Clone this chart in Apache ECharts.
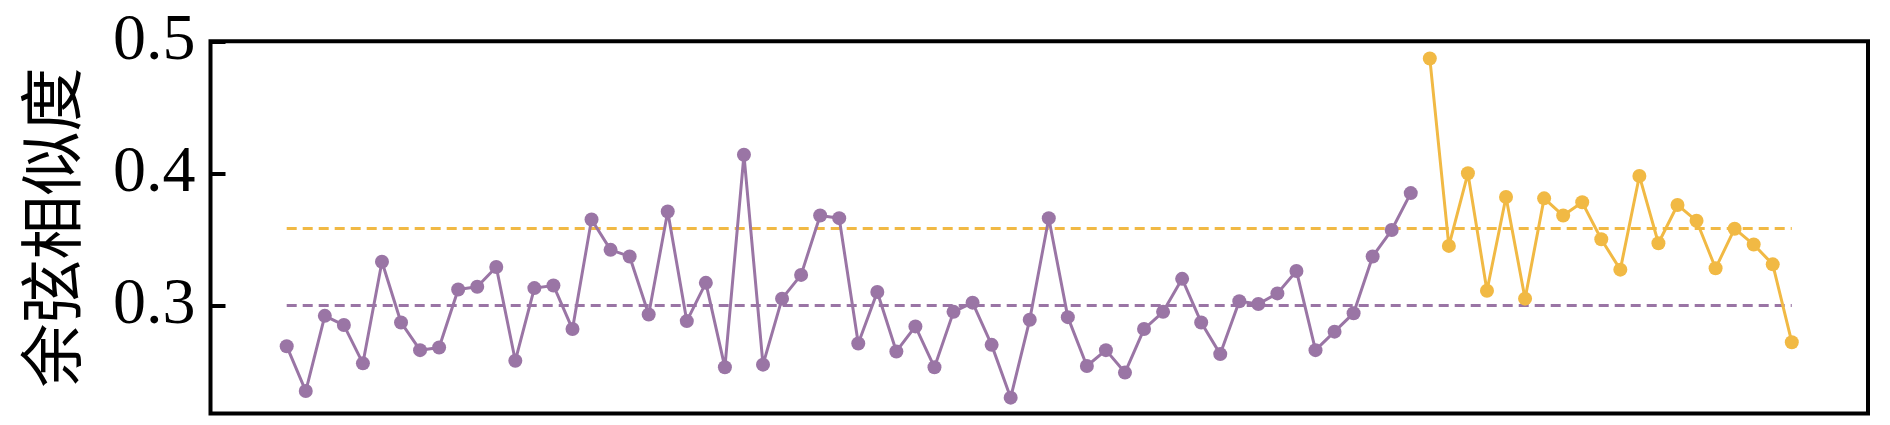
<!DOCTYPE html>
<html>
<head>
<meta charset="utf-8">
<script src="https://cdn.jsdelivr.net/npm/echarts@6/dist/echarts.min.js"></script>
<style>
html,body{margin:0;padding:0;background:#fff;}
#c{width:1890px;height:425px;}
</style>
</head>
<body>
<div id="c"></div>
<script>
// ---- data ----
const yAxisName = '余弦相似度';
const yTickValues = [0.3, 0.4, 0.5];
const yMin = 0.218;
const yMax = 0.5;

const seriesA = [0.269, 0.235, 0.292, 0.285, 0.256, 0.333, 0.287, 0.266, 0.268, 0.312,
  0.314, 0.329, 0.258, 0.313, 0.315, 0.282, 0.365, 0.342, 0.337, 0.293,
  0.371, 0.288, 0.317, 0.253, 0.414, 0.255, 0.305, 0.323, 0.368, 0.366,
  0.271, 0.310, 0.265, 0.284, 0.253, 0.295, 0.302, 0.270, 0.230, 0.289,
  0.366, 0.291, 0.254, 0.266, 0.249, 0.282, 0.295, 0.320, 0.287, 0.263,
  0.303, 0.301, 0.309, 0.326, 0.266, 0.280, 0.294, 0.337, 0.357, 0.385];

const seriesB = [0.487, 0.345, 0.400, 0.311, 0.382, 0.305, 0.381, 0.368, 0.378, 0.350,
  0.327, 0.398, 0.347, 0.376, 0.364, 0.328, 0.358, 0.346, 0.331, 0.272];

const meanA = 0.300;
const meanB = 0.358;

const colorA = '#9a75a5';
const colorB = '#f1b944';

// ---- build ----
const dataA = seriesA.map((v, i) => [i, v]);
const dataB = seriesB.map((v, i) => [seriesA.length + i, v]);
const lastIdx = seriesA.length + seriesB.length - 1;

const chart = echarts.init(document.getElementById('c'), null, {renderer: 'canvas'});
chart.setOption({
  backgroundColor: '#fff',
  animation: false,
  grid: {
    left: 210.5, right: 22, top: 41.3, bottom: 11.5,
    show: true, borderColor: '#000', borderWidth: 4, backgroundColor: 'transparent'
  },
  xAxis: {
    type: 'value', min: -4, max: lastIdx + 4,
    axisLine: {show: false, onZero: false}, axisTick: {show: false}, axisLabel: {show: false},
    splitLine: {show: false}
  },
  yAxis: {
    type: 'value', min: yMin, max: yMax,
    name: yAxisName, nameLocation: 'middle', nameRotate: 90, nameGap: 128,
    nameTextStyle: {fontFamily: 'Noto Sans CJK SC', fontSize: 64, color: '#000'},
    axisLine: {show: false, onZero: false},
    axisTick: {show: true, inside: true, length: 15, lineStyle: {color: '#000', width: 4}, customValues: yTickValues},
    axisLabel: {show: true, margin: 15, fontFamily: 'Liberation Serif', fontSize: 66, color: '#000',
      customValues: yTickValues, formatter: v => v.toFixed(1)},
    splitLine: {show: false}
  },
  series: [
    {
      type: 'line', data: dataA, symbol: 'circle', symbolSize: 14,
      itemStyle: {color: colorA}, lineStyle: {color: colorA, width: 3},
      z: 3,
      markLine: {
        silent: true, symbol: 'none', label: {show: false}, z: 2,
        lineStyle: {color: colorA, type: [10, 6], width: 3},
        data: [[{coord: [0, meanA]}, {coord: [lastIdx, meanA]}]]
      }
    },
    {
      type: 'line', data: dataB, symbol: 'circle', symbolSize: 14,
      itemStyle: {color: colorB}, lineStyle: {color: colorB, width: 3},
      z: 3,
      markLine: {
        silent: true, symbol: 'none', label: {show: false}, z: 2,
        lineStyle: {color: colorB, type: [10, 6], width: 3},
        data: [[{coord: [0, meanB]}, {coord: [lastIdx, meanB]}]]
      }
    }
  ]
});
</script>
</body>
</html>
